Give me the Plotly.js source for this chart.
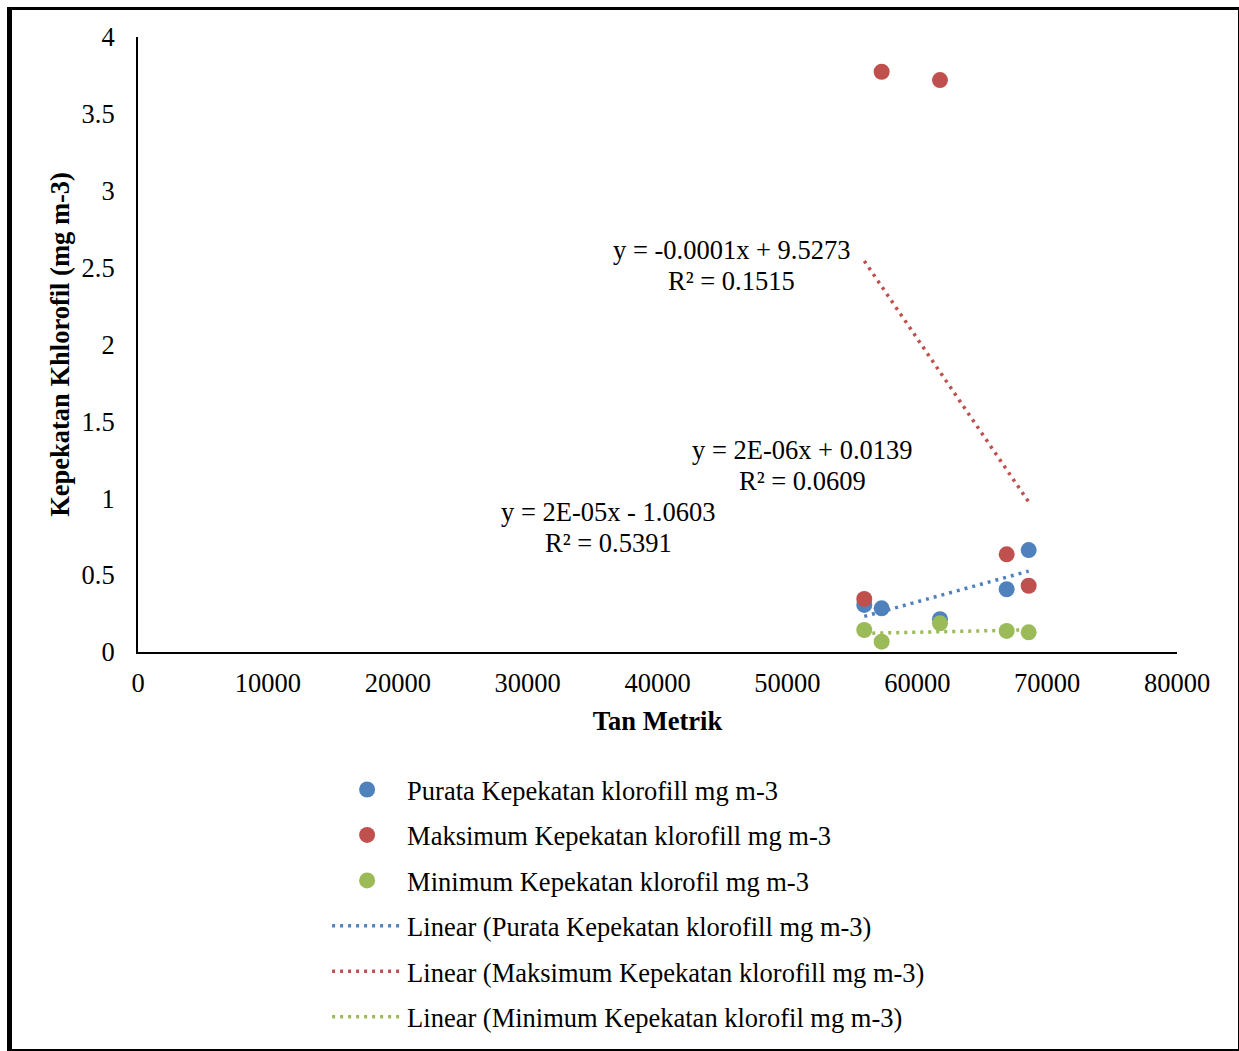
<!DOCTYPE html>
<html>
<head>
<meta charset="utf-8">
<script src="https://cdn.plot.ly/plotly-3.0.1.min.js"></script>
<style>
html,body{margin:0;padding:0;background:#fff;}
#wrap{position:absolute;left:0;top:0;width:1239px;height:1051px;}
#frame{position:absolute;left:7px;top:7px;width:1226px;height:1039px;border-left:5px solid #000;border-top:3px solid #000;border-right:3px solid #000;border-bottom:3px solid #000;pointer-events:none;z-index:5;}
#chart{position:absolute;left:0;top:0;width:1239px;height:1051px;}
</style>
</head>
<body>
<div id="wrap"><div id="chart"></div><div id="frame"></div></div>
<script>
// Data
const tanMetrik = [55920, 57260, 61750, 66885, 68580];
const purata   = [0.306, 0.284, 0.213, 0.408, 0.663];
const maksimum = [0.345, 3.774, 3.720, 0.635, 0.431];
const minimum  = [0.143, 0.067, 0.187, 0.137, 0.128];

const seriesNames = [
  'Purata Kepekatan klorofill mg m-3',
  'Maksimum Kepekatan klorofill mg m-3',
  'Minimum Kepekatan klorofil mg m-3'
];
const trendNames = [
  'Linear (Purata Kepekatan klorofill mg m-3)',
  'Linear (Maksimum Kepekatan klorofill mg m-3)',
  'Linear (Minimum Kepekatan klorofil mg m-3)'
];
const eqLine1 = ['y = 2E-05x - 1.0603', 'y = -0.0001x + 9.5273', 'y = 2E-06x + 0.0139'];
const eqLine2 = ['R² = 0.5391', 'R² = 0.1515', 'R² = 0.0609'];
const eqX = [36190, 45660, 51200];
const eqY = [0.813, 2.514, 1.216];
const xTicks = [0,10000,20000,30000,40000,50000,60000,70000,80000];
const yTicks = [0,0.5,1,1.5,2,2.5,3,3.5,4];
const yTickText = ['0','0.5','1','1.5','2','2.5','3','3.5','4'];

const colors = ['#4F81BD', '#C0504D', '#9BBB59'];
const FONT = 'Liberation Serif, Times New Roman, serif';
const FS = 26.5;

function linfit(x, y) {
  const n = x.length;
  const mx = x.reduce((a,b)=>a+b,0)/n, my = y.reduce((a,b)=>a+b,0)/n;
  let sxy=0, sxx=0;
  for (let i=0;i<n;i++){ sxy+=(x[i]-mx)*(y[i]-my); sxx+=(x[i]-mx)**2; }
  const m = sxy/sxx; return {m, b: my - m*mx};
}

const allY = [purata, maksimum, minimum];
const traces = [];
allY.forEach((ys, i) => {
  traces.push({
    x: tanMetrik, y: ys, type: 'scatter', mode: 'markers', name: seriesNames[i],
    marker: {color: colors[i], size: 16}, legendgroup: 'g'+i, legendrank: i+1
  });
});
allY.forEach((ys, i) => {
  const f = linfit(tanMetrik, ys);
  const xmin = Math.min(...tanMetrik), xmax = Math.max(...tanMetrik);
  traces.push({
    x: [xmin, xmax], y: [f.m*xmin+f.b, f.m*xmax+f.b], type: 'scatter', mode: 'lines',
    name: trendNames[i], line: {color: colors[i], width: 3.5, dash: '3px,5px'},
    legendgroup: 't'+i, legendrank: i+4
  });
});

const annotations = [];
eqLine1.forEach((t, i) => {
  annotations.push({x: eqX[i], y: eqY[i], xref: 'x', yref: 'y', text: t, showarrow: false,
    yshift: 15.5, font: {family: FONT, size: FS, color: '#000'}});
  annotations.push({x: eqX[i], y: eqY[i], xref: 'x', yref: 'y', text: eqLine2[i], showarrow: false,
    yshift: -15.5, font: {family: FONT, size: FS, color: '#000'}});
});

const layout = {
  width: 1239, height: 1051,
  margin: {l: 138, r: 62, t: 37, b: 399, autoexpand: false},
  paper_bgcolor: '#fff', plot_bgcolor: '#fff',
  font: {family: FONT, size: FS, color: '#000'},
  showlegend: true,
  xaxis: {
    range: [0, 80000], tickvals: xTicks, ticktext: xTicks.map(String), automargin: false,
    showgrid: false, zeroline: false, showline: true, linecolor: '#000', linewidth: 2,
    ticks: '', ticklabelstandoff: 6, tickfont: {family: FONT, size: FS},
    title: {text: '<b>Tan Metrik</b>', font: {family: FONT, size: FS}, standoff: 15}
  },
  yaxis: {
    range: [0, 4], tickvals: yTicks, ticktext: yTickText, automargin: false,
    showgrid: false, zeroline: false, showline: true, linecolor: '#000', linewidth: 2,
    ticks: '', ticklabelstandoff: 16, tickfont: {family: FONT, size: FS},
    title: {text: '<b>Kepekatan Khlorofil (mg m-3)</b>', font: {family: FONT, size: FS}, standoff: 4}
  },
  legend: {
    x: 0.182, y: -0.185, xanchor: 'left', yanchor: 'top',
    font: {family: FONT, size: FS}, tracegroupgap: 8, itemwidth: 70,
    bgcolor: 'rgba(0,0,0,0)'
  },
  annotations: annotations
};

Plotly.newPlot('chart', traces, layout, {displayModeBar: false, staticPlot: true});
</script>
</body>
</html>
